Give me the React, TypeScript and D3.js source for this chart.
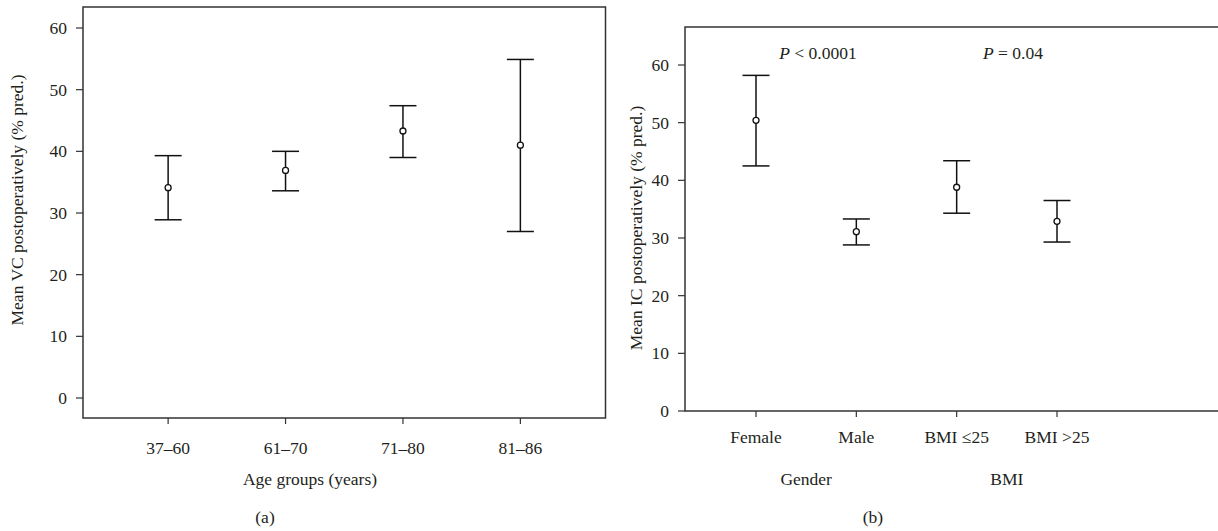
import React from "react";
import * as d3 from "d3";

const ageGroups = ["37–60", "61–70", "71–80", "81–86"];
const vcLower = [28.9, 33.6, 39.0, 27.0];
const vcMean = [34.1, 36.9, 43.3, 41.0];
const vcUpper = [39.3, 40.0, 47.4, 54.9];

const icGroups = ["Female", "Male", "BMI ≤25", "BMI >25"];
const icLower = [42.5, 28.8, 34.3, 29.3];
const icMean = [50.4, 31.1, 38.8, 32.9];
const icUpper = [58.2, 33.3, 43.4, 36.5];

const yTicks = [0, 10, 20, 30, 40, 50, 60];
const groupLabels = ["Gender", "BMI"];

const FONT = "Liberation Serif, Times New Roman, serif";
const TXT = "#231f20";
const FS = 17.5;

function ErrBars({ x, y, cats, lo, mid, hi }: any) {
  const cap = 13.5;
  return (
    <g stroke="#111" strokeWidth={1.5} fill="none">
      {cats.map((c: string, i: number) => {
        const cx = x(c);
        return (
          <g key={c}>
            <line x1={cx} x2={cx} y1={y(hi[i])} y2={y(lo[i])} />
            <line x1={cx - cap} x2={cx + cap} y1={y(hi[i])} y2={y(hi[i])} />
            <line x1={cx - cap} x2={cx + cap} y1={y(lo[i])} y2={y(lo[i])} />
            <circle cx={cx} cy={y(mid[i])} r={3} fill="#fff" strokeWidth={1.3} />
          </g>
        );
      })}
    </g>
  );
}

export default function App() {
  // Panel (a)
  const aL = 83, aR = 605.5, aT = 7, aB = 418;
  const ya = d3.scaleLinear().domain([0, 60]).range([398, 28]);
  const xa = d3.scalePoint<string>().domain(ageGroups).range([aL, aR]).padding(0.725);

  // Panel (b)
  const bL = 685, bR = 1230, bT = 27, bB = 411;
  const yb = d3.scaleLinear().domain([0, 60]).range([411, 65]);
  const xb = d3.scalePoint<string>().domain(icGroups).range([756, 1057]);

  const ts = { fontFamily: FONT, fontSize: FS, fill: TXT } as any;

  return (
    <svg
      width={1218}
      height={531}
      style={{ position: "absolute", left: 0, top: 0, background: "#fff", fontFamily: FONT }}
    >
      {/* Panel a */}
      <rect x={aL} y={aT} width={aR - aL} height={aB - aT} fill="none" stroke="#333" strokeWidth={1.5} />
      {yTicks.map((t) => (
        <g key={"ya" + t}>
          <line x1={aL - 7} x2={aL} y1={ya(t)} y2={ya(t)} stroke="#333" strokeWidth={1.2} />
          <text x={aL - 16} y={ya(t)} dy="0.35em" textAnchor="end" style={ts}>
            {t}
          </text>
        </g>
      ))}
      {ageGroups.map((c) => (
        <g key={"xa" + c}>
          <line x1={xa(c)} x2={xa(c)} y1={aB} y2={aB + 6} stroke="#333" strokeWidth={1.2} />
          <text x={xa(c)} y={454} textAnchor="middle" style={ts}>
            {c}
          </text>
        </g>
      ))}
      <ErrBars x={xa} y={ya} cats={ageGroups} lo={vcLower} mid={vcMean} hi={vcUpper} />
      <text transform={`translate(23,200) rotate(-90)`} textAnchor="middle" style={ts}>
        Mean VC postoperatively (% pred.)
      </text>
      <text x={310} y={485} textAnchor="middle" style={ts}>
        Age groups (years)
      </text>
      <text x={265} y={523} textAnchor="middle" style={ts}>
        (a)
      </text>

      {/* Panel b */}
      <rect x={bL} y={bT} width={bR - bL} height={bB - bT} fill="none" stroke="#333" strokeWidth={1.5} />
      {yTicks.map((t) => (
        <g key={"yb" + t}>
          <line x1={bL - 7} x2={bL} y1={yb(t)} y2={yb(t)} stroke="#333" strokeWidth={1.2} />
          <text x={bL - 16} y={yb(t)} dy="0.35em" textAnchor="end" style={ts}>
            {t}
          </text>
        </g>
      ))}
      {icGroups.map((c) => (
        <g key={"xb" + c}>
          <line x1={xb(c)} x2={xb(c)} y1={bB} y2={bB + 6} stroke="#333" strokeWidth={1.2} />
          <text x={xb(c)} y={443} textAnchor="middle" style={ts}>
            {c}
          </text>
        </g>
      ))}
      <ErrBars x={xb} y={yb} cats={icGroups} lo={icLower} mid={icMean} hi={icUpper} />
      <text transform={`translate(642,228) rotate(-90)`} textAnchor="middle" style={ts}>
        Mean IC postoperatively (% pred.)
      </text>
      {groupLabels.map((g, i) => {
        const cx = ((xb(icGroups[i * 2]) as number) + (xb(icGroups[i * 2 + 1]) as number)) / 2;
        return (
          <text key={g} x={cx} y={485} textAnchor="middle" style={ts}>
            {g}
          </text>
        );
      })}
      <text x={818} y={59} textAnchor="middle" style={ts}>
        <tspan fontStyle="italic">P</tspan>
        {" < 0.0001"}
      </text>
      <text x={1013} y={59} textAnchor="middle" style={ts}>
        <tspan fontStyle="italic">P</tspan>
        {" = 0.04"}
      </text>
      <text x={873} y={523} textAnchor="middle" style={ts}>
        (b)
      </text>
    </svg>
  );
}
